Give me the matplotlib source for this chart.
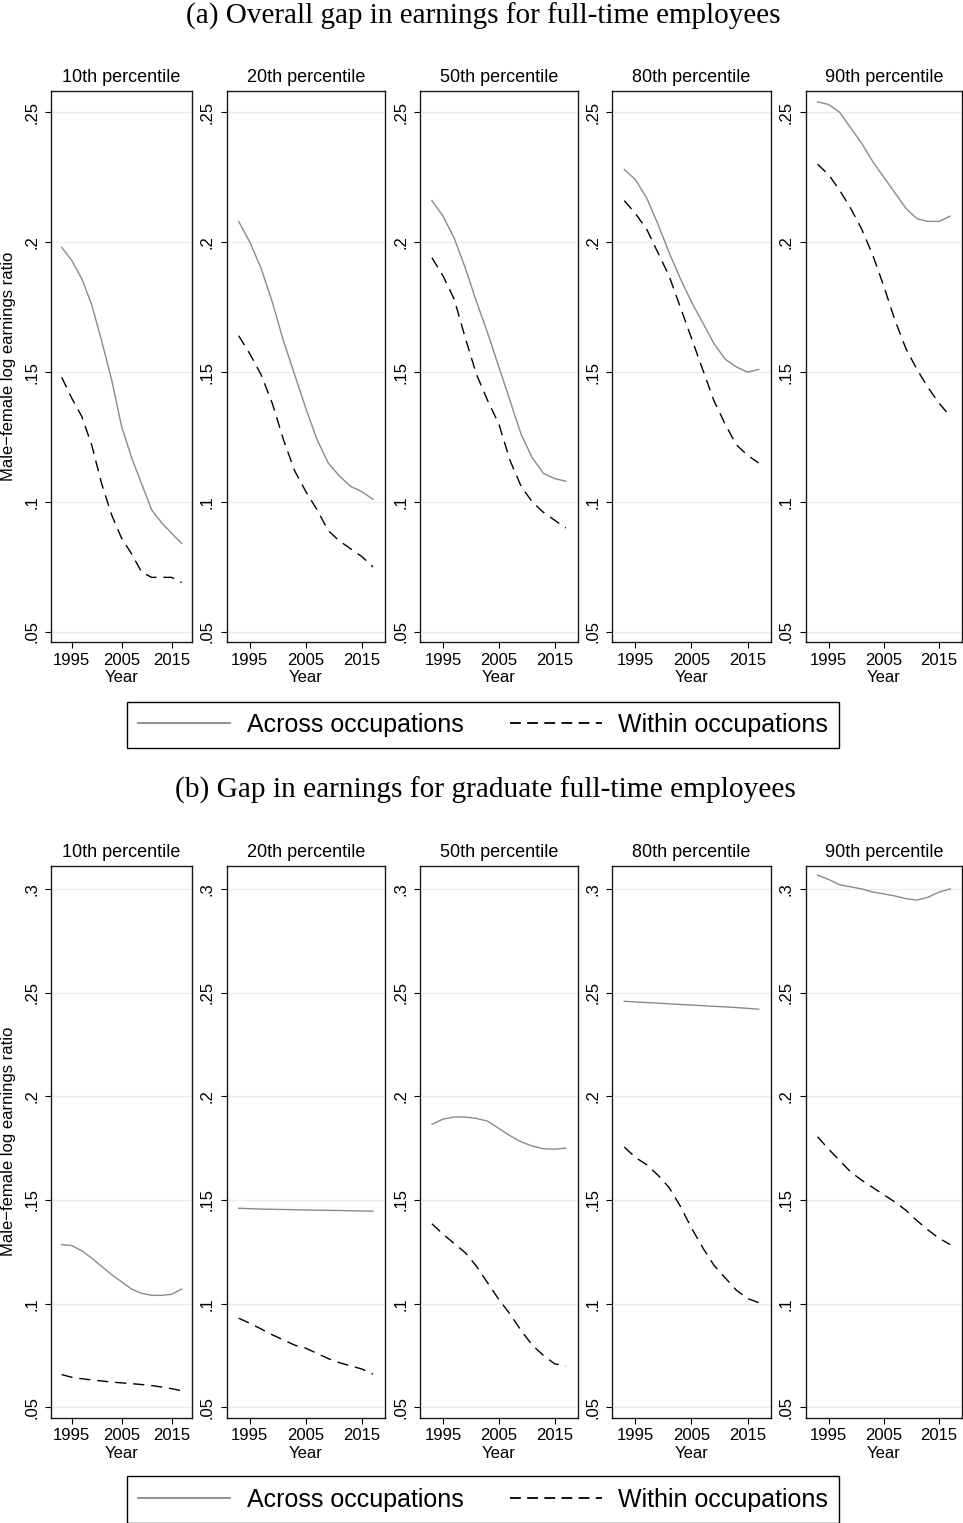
import matplotlib
matplotlib.use('Agg')
import matplotlib.pyplot as plt
from matplotlib.lines import Line2D
from matplotlib.ticker import FuncFormatter

plt.rcParams['font.family'] = ['Liberation Sans', 'DejaVu Sans']

# years sampled every two years
years = [1993, 1995, 1997, 1999, 2001, 2003, 2005, 2007, 2009, 2011, 2013, 2015, 2017]
panel_titles = ['10th percentile', '20th percentile', '50th percentile',
                '80th percentile', '90th percentile']

# (a) all full-time employees
a_across_p10 = [0.198, 0.193, 0.186, 0.176, 0.162, 0.147, 0.129, 0.117, 0.107, 0.097, 0.092, 0.088, 0.084]
a_within_p10 = [0.148, 0.140, 0.133, 0.122, 0.107, 0.095, 0.086, 0.080, 0.073, 0.071, 0.071, 0.071, 0.069]
a_across_p20 = [0.208, 0.200, 0.190, 0.177, 0.162, 0.149, 0.136, 0.124, 0.115, 0.110, 0.106, 0.104, 0.101]
a_within_p20 = [0.164, 0.157, 0.149, 0.138, 0.124, 0.112, 0.104, 0.097, 0.089, 0.085, 0.082, 0.079, 0.075]
a_across_p50 = [0.216, 0.210, 0.2015, 0.190, 0.177, 0.165, 0.152, 0.139, 0.126, 0.117, 0.111, 0.109, 0.108]
a_within_p50 = [0.194, 0.187, 0.178, 0.163, 0.149, 0.139, 0.130, 0.116, 0.106, 0.100, 0.096, 0.093, 0.090]
a_across_p80 = [0.228, 0.224, 0.217, 0.207, 0.196, 0.186, 0.177, 0.169, 0.161, 0.155, 0.152, 0.150, 0.151]
a_within_p80 = [0.216, 0.211, 0.205, 0.196, 0.187, 0.175, 0.163, 0.151, 0.139, 0.130, 0.122, 0.118, 0.115]
a_across_p90 = [0.254, 0.253, 0.250, 0.244, 0.238, 0.231, 0.225, 0.219, 0.213, 0.209, 0.208, 0.208, 0.210]
a_within_p90 = [0.230, 0.226, 0.220, 0.213, 0.205, 0.195, 0.183, 0.170, 0.159, 0.151, 0.144, 0.138, 0.133]

# (b) graduate full-time employees
b_across_p10 = [0.1285, 0.128, 0.1255, 0.122, 0.118, 0.114, 0.1105, 0.107, 0.105, 0.104, 0.104, 0.1045, 0.107]
b_within_p10 = [0.0658, 0.0645, 0.0638, 0.0632, 0.0627, 0.0622, 0.0618, 0.0614, 0.0610, 0.0605, 0.0598, 0.059, 0.058]
b_across_p20 = [0.146, 0.1458, 0.1456, 0.1455, 0.1454, 0.1453, 0.1452, 0.1451, 0.1450, 0.1449, 0.1448, 0.1447, 0.1446]
b_within_p20 = [0.093, 0.0905, 0.0878, 0.085, 0.0825, 0.080, 0.0785, 0.076, 0.0735, 0.0715, 0.070, 0.0685, 0.066]
b_across_p50 = [0.1865, 0.189, 0.190, 0.190, 0.1893, 0.188, 0.1845, 0.181, 0.178, 0.176, 0.1747, 0.1745, 0.175]
b_within_p50 = [0.1385, 0.1335, 0.129, 0.1245, 0.118, 0.110, 0.102, 0.095, 0.087, 0.080, 0.075, 0.071, 0.070]
b_across_p80 = [0.2458, 0.2455, 0.2452, 0.2449, 0.2446, 0.2443, 0.2440, 0.2437, 0.2434, 0.2431, 0.2428, 0.2424, 0.2420]
b_within_p80 = [0.1755, 0.1705, 0.167, 0.162, 0.156, 0.147, 0.1365, 0.127, 0.1185, 0.1125, 0.1065, 0.1025, 0.1005]
b_across_p90 = [0.3066, 0.3046, 0.302, 0.301, 0.300, 0.2985, 0.2976, 0.2966, 0.2953, 0.2946, 0.296, 0.2985, 0.300]
b_within_p90 = [0.1805, 0.1745, 0.169, 0.1635, 0.1595, 0.156, 0.1525, 0.149, 0.145, 0.140, 0.1355, 0.1315, 0.1285]

a_yticks = [0.05, 0.1, 0.15, 0.2, 0.25]
b_yticks = [0.05, 0.1, 0.15, 0.2, 0.25, 0.3]
xticks = [1995, 2005, 2015]

W, H = 963, 1523
GRAY = '#8a8a8a'
GRID = '#e6eef0'
DASH = (8, 5)

# pixel columns of each panel (left, right)
cols = [(51, 192.3), (226.7, 385), (420, 577.7), (612.3, 770.7), (805.7, 962)]


def stata_fmt(v, pos):
    s = '%g' % round(v, 3)
    return s[1:] if s.startswith('0') else s


def draw_row(fig, top, bottom, across, within, yticks, ylim):
    for i, (x0, x1) in enumerate(cols):
        ax = fig.add_axes([x0 / W, 1 - bottom / H, (x1 - x0) / W, (bottom - top) / H])
        ax.plot(years, across[i], color=GRAY, lw=1.0)
        ax.plot(years, within[i], color='black', lw=1.0, ls=(0, DASH))
        ax.set_xlim(1990.86, 2019.14)
        ax.set_ylim(*ylim)
        ax.set_xticks(xticks)
        ax.set_yticks(yticks)
        ax.yaxis.set_major_formatter(FuncFormatter(stata_fmt))
        ax.grid(axis='y', color=GRID, lw=0.9)
        ax.set_axisbelow(True)
        for sp in ax.spines.values():
            sp.set_linewidth(1.0)
            sp.set_color('#1a1a1a')
        ax.tick_params(length=4.5, width=0.8, labelsize=12, pad=3)
        ax.tick_params(axis='y', pad=4)
        plt.setp(ax.get_yticklabels(), rotation=90, va='center')
        ax.set_xlabel('Year', fontsize=12, labelpad=2)
        ax.set_title(panel_titles[i], fontsize=13, pad=6)
        if i == 0:
            ax.set_ylabel('Male\u2212female log earnings ratio', fontsize=12, labelpad=6)


fig = plt.figure(figsize=(W / 100, H / 100), dpi=100)

draw_row(fig, 90.7, 642.3,
         [a_across_p10, a_across_p20, a_across_p50, a_across_p80, a_across_p90],
         [a_within_p10, a_within_p20, a_within_p50, a_within_p80, a_within_p90],
         a_yticks, (0.046, 0.2583))
draw_row(fig, 865.7, 1417.7,
         [b_across_p10, b_across_p20, b_across_p50, b_across_p80, b_across_p90],
         [b_within_p10, b_within_p20, b_within_p50, b_within_p80, b_within_p90],
         b_yticks, (0.045, 0.3112))

serif = ['Liberation Serif', 'DejaVu Serif']
fig.text(483 / W, 1 - 16 / H, '(a) Overall gap in earnings for full-time employees',
         ha='center', va='center', fontsize=21, family=serif)
fig.text(485 / W, 1 - 790 / H, '(b) Gap in earnings for graduate full-time employees',
         ha='center', va='center', fontsize=21.2, family=serif)

handles = [Line2D([], [], color=GRAY, lw=1.3),
           Line2D([], [], color='black', lw=1.3, ls=(0, (6, 3.5)))]
labels = ['Across occupations', 'Within occupations']
for cy in (725, 1499.5):
    fig.legend(handles, labels, loc='center', bbox_to_anchor=(483 / W, 1 - cy / H),
               ncol=2, fontsize=18, frameon=True, fancybox=False, edgecolor='black',
               handlelength=3.7, handletextpad=0.65, columnspacing=1.85,
               borderpad=0.45, framealpha=1)

fig.savefig('out.png', dpi=100)
